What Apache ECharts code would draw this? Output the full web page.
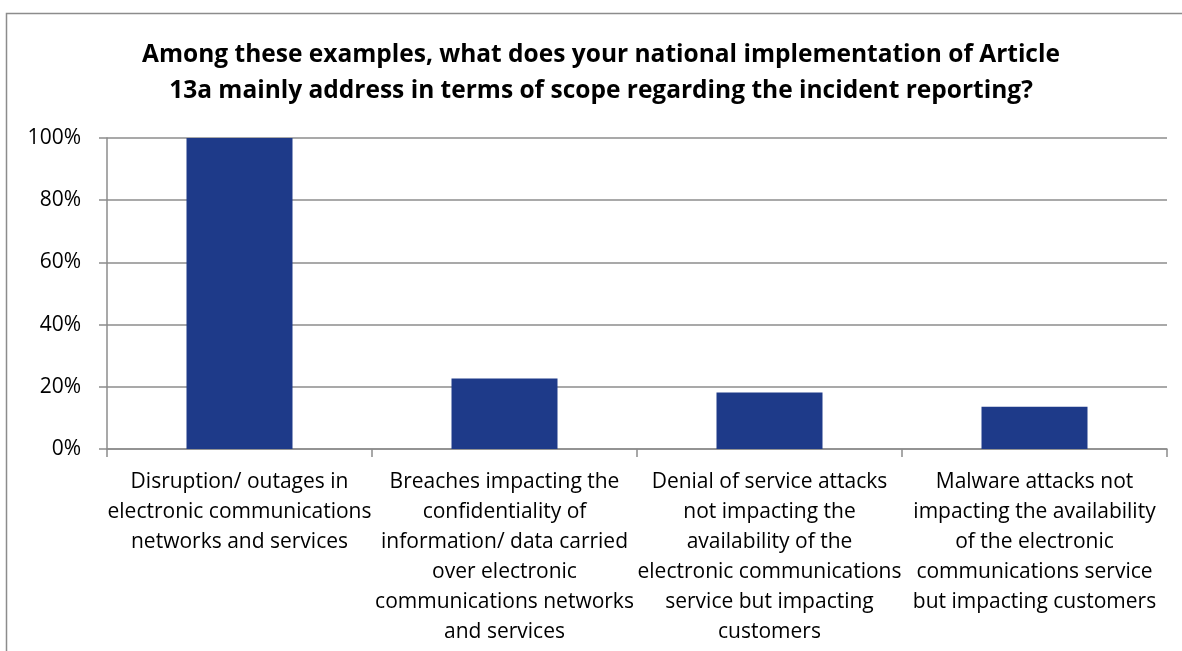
<!DOCTYPE html>
<html>
<head>
<meta charset="utf-8">
<script src="https://cdn.jsdelivr.net/npm/echarts@6/dist/echarts.min.js"></script>
<style>
  html, body { margin: 0; padding: 0; background: #fff; }
  #chart { width: 1182px; height: 651px; }
</style>
</head>
<body>
<div id="chart"></div>
<script>
// Scope of incident reporting under Article 13a (share of respondents)
const categories = [
  'Disruption/ outages in\nelectronic communications\nnetworks and services',
  'Breaches impacting the\nconfidentiality of\ninformation/ data carried\nover electronic\ncommunications networks\nand services',
  'Denial of service attacks\nnot impacting the\navailability of the\nelectronic communications\nservice but impacting\ncustomers',
  'Malware attacks not\nimpacting the availability\nof the electronic\ncommunications service\nbut impacting customers'
];
const shareValues = [100, 22.7, 18.2, 13.6];
const yTicks = [0, 20, 40, 60, 80, 100];

const titleText = 'Among these examples, what does your national implementation of Article\n13a mainly address in terms of scope regarding the incident reporting?';
const FONT = '"Open Sans", "Noto Sans", sans-serif';
const GRAY = '#8c8c8c';

const chart = echarts.init(document.getElementById('chart'), null, { renderer: 'canvas' });
chart.setOption({
  animation: false,
  backgroundColor: '#fff',
  graphic: [{
    type: 'rect',
    shape: { x: 6.5, y: 13.5, width: 1200, height: 700 },
    style: { fill: 'none', stroke: GRAY, lineWidth: 1.5 },
    silent: true
  }],
  title: {
    text: titleText,
    left: 596,
    textAlign: 'center',
    top: 32,
    textStyle: { fontFamily: FONT, fontWeight: 'bold', fontSize: 24.5, color: '#000', lineHeight: 36 }
  },
  grid: { left: 107, right: 15, top: 138, bottom: 202, containLabel: false },
  xAxis: {
    type: 'category',
    data: categories,
    boundaryGap: true,
    axisLine: { show: true, lineStyle: { color: GRAY, width: 1.5 } },
    axisTick: { show: true, length: 8, lineStyle: { color: GRAY, width: 1.5 } },
    axisLabel: {
      interval: 0,
      margin: 18,
      fontFamily: FONT,
      fontSize: 21,
      lineHeight: 30,
      color: '#000',
      align: 'center'
    }
  },
  yAxis: {
    type: 'value',
    min: 0,
    max: 100,
    interval: 20,
    axisLine: { show: true, lineStyle: { color: GRAY, width: 1.5 } },
    axisTick: { show: true, length: 8, lineStyle: { color: GRAY, width: 1.5 } },
    splitLine: { show: true, lineStyle: { color: GRAY, width: 1.5 } },
    axisLabel: {
      margin: 26,
      fontFamily: FONT,
      fontSize: 21,
      color: '#000',
      formatter: v => yTicks.includes(v) ? v + '%' : ''
    }
  },
  series: [{
    type: 'bar',
    data: shareValues,
    barWidth: '40%',
    itemStyle: { color: '#1e3a89' }
  }]
});
</script>
</body>
</html>
